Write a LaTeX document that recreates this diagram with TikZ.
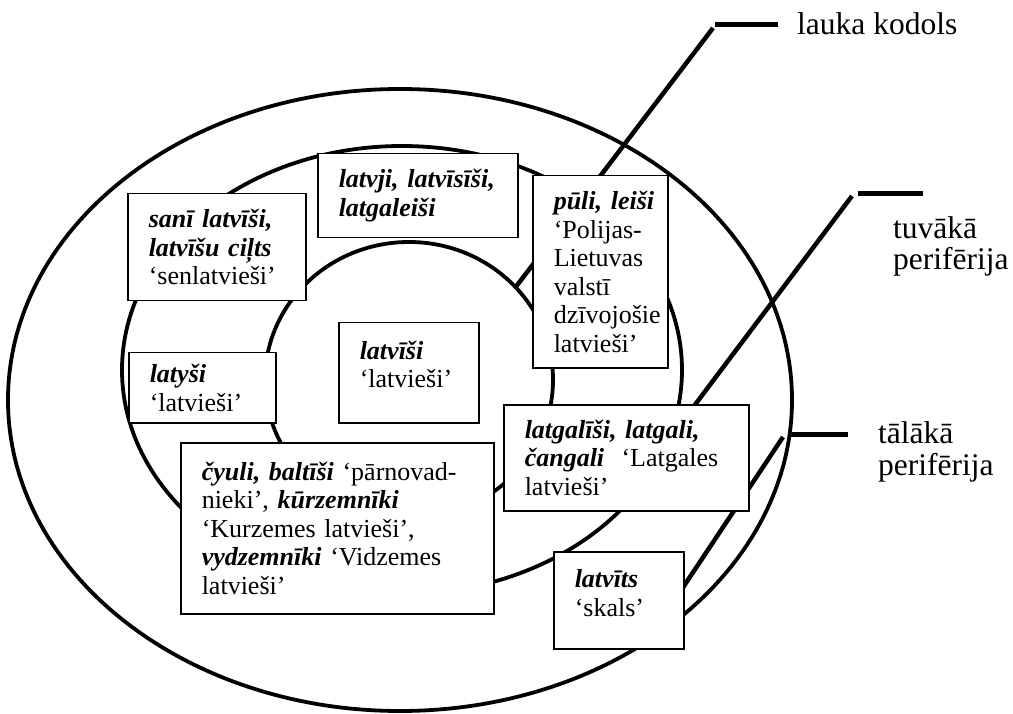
\documentclass[tikz,border=0pt]{standalone}
\usepackage{fontspec}
\setmainfont{Liberation Serif}
\newcommand{\kw}[1]{\textbf{\textit{#1}}}
\tikzset{
  ring/.style={line width=3.8pt},
  lead/.style={line width=4.5pt},
  bar/.style={line width=5pt},
  box/.style={draw, line width=1.5pt, fill=white, align=left, anchor=north west,
              inner xsep=21pt, inner ysep=0pt,
              font=\fontsize{26}{28.5}\selectfont},
  lbl/.style={align=left, anchor=base west, inner sep=0pt, font=\fontsize{31.5}{32}\selectfont}
}
\begin{document}
\begin{tikzpicture}[x=1pt,y=-1pt]
\useasboundingbox (0,0) rectangle (1013,714);
% rings
\draw[ring] (400,400) ellipse [x radius=392pt, y radius=311pt];
\draw[ring] (402,370) ellipse [x radius=280pt, y radius=224pt];
\draw[ring] (409,380) ellipse [x radius=144pt, y radius=138pt];
% leader coordinates
\coordinate (kb1) at (778,25);
\coordinate (kb2) at (715,25);
\coordinate (kd1) at (713,28);
\coordinate (kd2) at (515,288);
\coordinate (tb1) at (923,194);
\coordinate (tb2) at (858,194);
\coordinate (td1) at (852,196);
\coordinate (td2) at (676,430);
\coordinate (pb1) at (848,434);
\coordinate (pb2) at (790,434);
\coordinate (pd1) at (783,437);
\coordinate (pd2) at (670,607);
\draw[bar] (kb1) -- (kb2);
\draw[lead] (kd1) -- (kd2);
\draw[bar] (tb1) -- (tb2);
\draw[lead] (td1) -- (td2);
\draw[bar] (pb1) -- (pb2);
\draw[lead] (pd1) -- (pd2);
% boxes
\node[box, text width=136pt, minimum height=107pt] (sani) at (127,193)
  {\kw{sanī latvīši,}\\\kw{latvīšu ciļts}\\‘senlatvieši’};
\node[box, text width=158pt, minimum height=84pt] (latvji) at (317,153)
  {\mbox{\kw{latvji, latvīsīši,}}\\\kw{latgaleiši}};
\node[box, text width=93pt, minimum height=192pt] (puli) at (532,175)
  {\mbox{\kw{pūli, leiši}}\\‘Polijas-\\Lietuvas\\valstī\\\mbox{dzīvojošie}\\latvieši’};
\node[box, text width=105pt, minimum height=70pt] (latysi) at (128,352)
  {\kw{latyši}\\‘latvieši’};
\node[box, text width=98pt, minimum height=100pt] (latvisi) at (338,322)
  {\kw{latvīši}\\‘latvieši’\\[-12pt]\mbox{}};
\node[box, text width=271pt, minimum height=171pt] (cyuli) at (180,442)
  {\mbox{\kw{čyuli, baltīši} ‘pārnovad-}\\\mbox{nieki’, \kw{kūrzemnīki}}\\\mbox{‘Kurzemes latvieši’,}\\\mbox{\kw{vydzemnīki} ‘Vidzemes}\\latvieši’};
\node[box, text width=203pt, minimum height=106pt] (latgalisi) at (503,404)
  {\mbox{\kw{latgalīši, latgali,}}\\\mbox{\kw{čangali}~ ‘Latgales}\\latvieši’};
\node[box, text width=88pt, minimum height=97pt] (latvits) at (553,551)
  {\kw{latvīts}\\‘skals’\\[-14pt]\mbox{}};
% labels (base anchor = last line)
\node[lbl] (kodols) at (797,35) {lauka kodols};
\node[lbl] (tuvaka) at (893,270) {tuvākā\\perifērija};
\node[lbl] (talaka) at (878,475) {tālākā\\perifērija};
\end{tikzpicture}
\end{document}
